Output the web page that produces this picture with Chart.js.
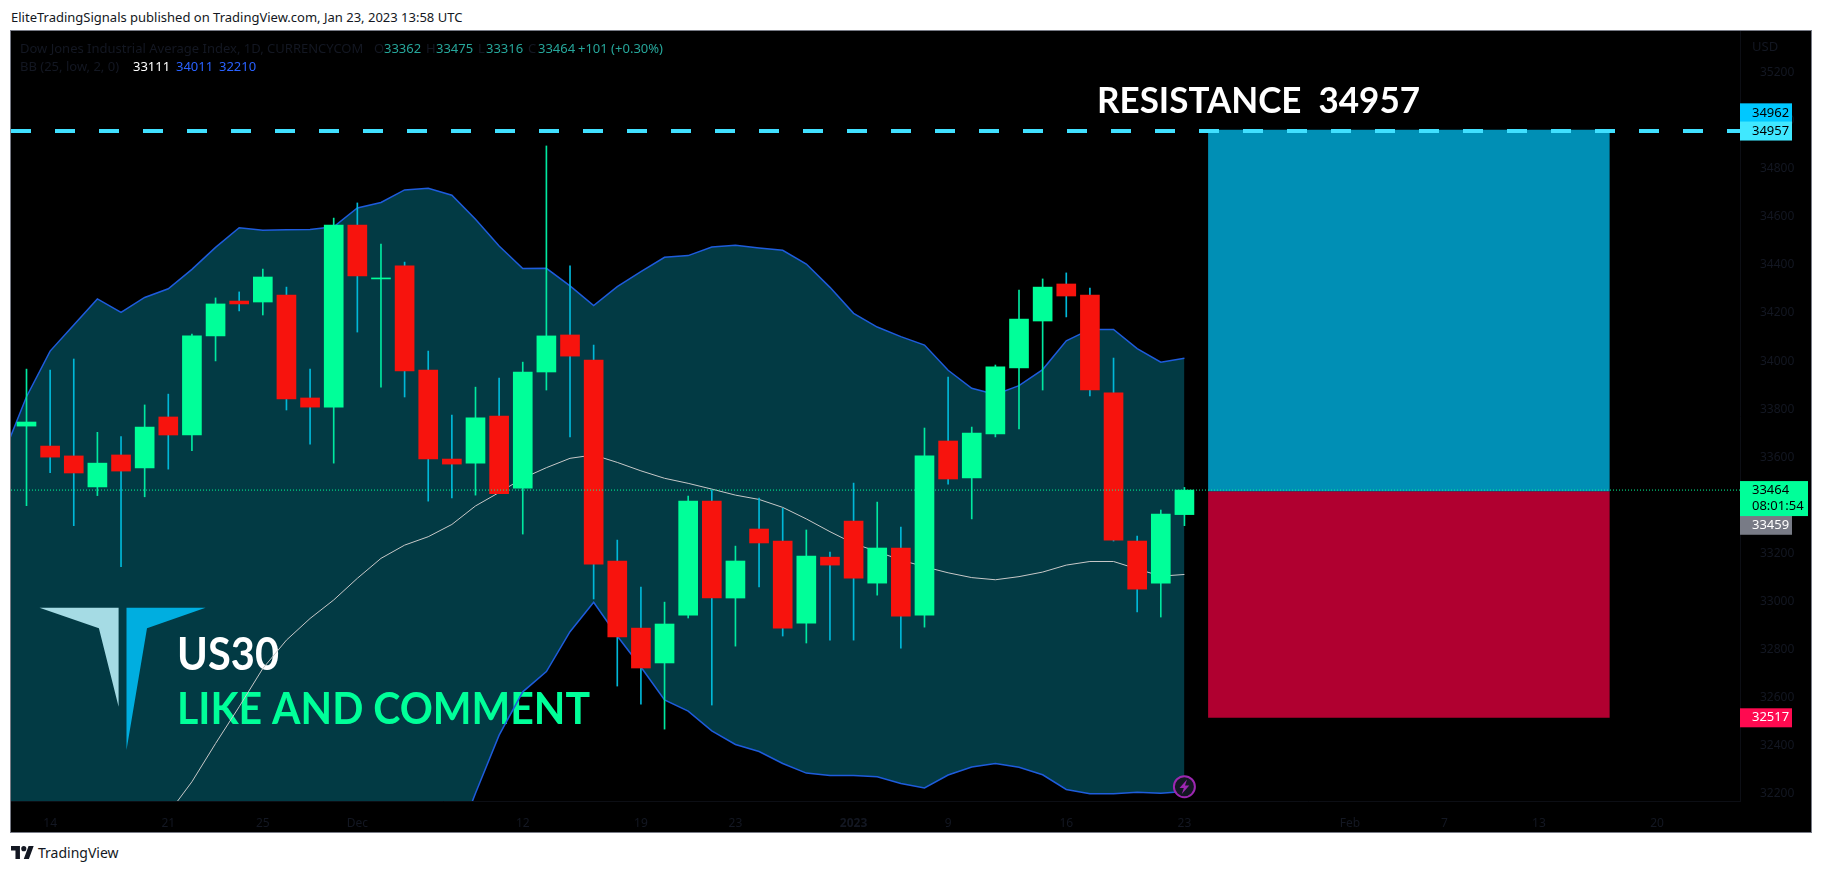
<!DOCTYPE html>
<html>
<head>
<meta charset="utf-8">
<script src="https://cdn.jsdelivr.net/npm/chart.js@4"></script>
<style>
  html, body { margin: 0; padding: 0; background: #fff; }
  body { width: 1823px; height: 872px; position: relative; overflow: hidden; font-family: "Noto Sans", sans-serif; }
  #title { position: absolute; left: 11px; top: 8px; font-size: 13px; line-height: 18px; color: #131722; white-space: pre; }
  #frame { position: absolute; left: 10px; top: 30px; width: 1800px; height: 801px; border: 1px solid #787b86; background: #000; }
  #frame canvas { position: absolute; left: 0; top: 0; }
  #logo, #alert { position: absolute; left: 0; top: 0; }
  .leg { position: absolute; font-size: 13px; line-height: 18px; white-space: pre; color: #131722; }
  .up { color: #26a69a; }
  #tvlogo { position: absolute; left: 11px; top: 846px; }
  #tvtext { position: absolute; left: 38px; top: 843px; font-size: 14px; line-height: 20px; color: #131722; }
</style>
</head>
<body>
<div id="title">EliteTradingSignals published on TradingView.com, Jan 23, 2023 13:58 UTC</div>
<div id="frame">
  <canvas id="grafico" width="1800" height="801"></canvas>
  <div class="leg" style="left:9px;top:8px">Dow Jones Industrial Average Index, 1D, CURRENCYCOM</div>
  <div class="leg" style="left:363px;top:8px">O</div><div class="leg up" style="left:373px;top:8px">33362</div>
  <div class="leg" style="left:415px;top:8px">H</div><div class="leg up" style="left:425px;top:8px">33475</div>
  <div class="leg" style="left:467px;top:8px">L</div><div class="leg up" style="left:475px;top:8px">33316</div>
  <div class="leg" style="left:517px;top:8px">C</div><div class="leg up" style="left:527px;top:8px">33464</div>
  <div class="leg up" style="left:567px;top:8px">+101 (+0.30%)</div>
  <div class="leg" style="left:9px;top:26px">BB (25, low, 2, 0)</div>
  <div class="leg" style="left:122px;top:26px;color:#fff">33111</div>
  <div class="leg" style="left:165px;top:26px;color:#2962ff">34011</div>
  <div class="leg" style="left:208px;top:26px;color:#2962ff">32210</div>
  <div class="leg" style="left:1741px;top:6px">USD</div>
  <svg id="logo" width="210" height="760" style="pointer-events:none">
    <polygon points="28.5,576.7 107.6,576.7 107.6,675.7 87.9,597.3" fill="#a5dbe4"/>
    <polygon points="115.5,576.7 194.6,576.7 136,597.3 115.5,719" fill="#00aee0"/>
  </svg>
  <svg id="alert" width="1800" height="801" style="pointer-events:none">
    <circle cx="1173.4" cy="755.7" r="10.5" fill="#131722" stroke="#9c27b0" stroke-width="2"/>
    <polygon points="1176,748.5 1168.5,757 1172.8,757 1170.8,763 1178.3,754.5 1174,754.5" fill="#9c27b0"/>
  </svg>
</div>
<svg id="tvlogo" width="23" height="13" viewBox="0 0 36 20"><path d="M14 20H7V7H0V0h14v20zM28 20h-8l7.5-20h8L28 20z" fill="#131722"/><circle cx="20" cy="4" r="4" fill="#131722"/></svg>
<div id="tvtext">TradingView</div>

<script>
// velas diarias
const abertura = [33730,33647,33606,33477,33610,33556,33768,33693,34105,34250,34246,34275,33847,33809,34566,34342,34396,33963,33593,33576,33772,33472,33955,34109,34005,33169,32890,32745,32944,33418,33015,33302,33252,32911,33185,33335,33077,33223,32944,33668,33514,33697,33972,34167,34321,34275,33868,33252,33077,33362];
const fechamento = [33747,33601,33535,33576,33543,33726,33693,34105,34238,34238,34350,33843,33809,34566,34354,34346,33959,33593,33572,33764,33449,33955,34105,34021,33156,32853,32724,32907,33418,33015,33169,33244,32890,33190,33152,33098,33223,32940,33606,33510,33701,33976,34175,34308,34271,33880,33256,33052,33364,33464];
const maxima = [33967,33963,34009,33704,33686,33818,33863,34113,34263,34288,34383,34308,33967,34595,34658,34487,34412,34042,33776,33892,33930,33996,34895,34396,34067,33256,33061,32998,33439,33464,33231,33431,33388,33298,33206,33493,33414,33310,33722,33934,33726,33984,34296,34342,34367,34304,34013,33273,33381,33475];
const minima = [33399,33536,33316,33441,33145,33436,33551,33628,34001,34209,34192,33797,33655,33576,34121,33892,33851,33418,33431,33443,33449,33281,33880,33685,33011,32649,32574,32470,32932,32570,32815,33061,32857,32828,32840,32840,33027,32807,32894,33489,33344,33685,33718,33880,34184,33855,33252,32957,32936,33316];

// bollinger: banda de cima e de baixo comecam no indice -1, a media no indice 6
// (os valores abaixo de 32170 ficam fora da tela, sao estimativa)
const bandaCima = [33606,33852,34042,34150,34259,34203,34265,34301,34382,34473,34555,34544,34547,34548,34559,34637,34660,34712,34719,34690,34590,34479,34385,34386,34313,34231,34310,34372,34432,34439,34475,34482,34471,34461,34404,34307,34199,34142,34102,34067,33962,33887,33862,33898,33965,34085,34132,34132,34052,33996,34012];
const bandaBaixo = [30000,30000,30000,30000,29950,29950,29950,29937,30120,30347,30571,30900,31133,31312,31455,31557,31700,31758,31821,31952,32203,32445,32625,32709,32875,32997,32857,32728,32591,32545,32463,32406,32377,32327,32287,32277,32277,32272,32244,32225,32279,32312,32327,32311,32280,32219,32201,32201,32207,32203,32210];
const media = [32119,32251,32410,32563,32722,32840,32930,33007,33097,33180,33235,33270,33321,33398,33454,33513,33557,33596,33610,33579,33544,33513,33492,33468,33443,33425,33392,33344,33291,33242,33208,33173,33145,33120,33100,33091,33104,33123,33152,33167,33167,33136,33106,33113];

// posicao long desenhada depois da ultima vela
const caixaX = [50, 67];
const alvo = 34962;
const entrada = 33459;
const stop = 32517;
const resistencia = 34957;
const ultimo = 33464;

const precos = [32200,32400,32600,32800,33000,33200,33400,33600,33800,34000,34200,34400,34600,34800,35000,35200];
const datasIdx = [1,6,10,14,21,26,30,35,39,44,49,56,60,64,69];
const datasTxt = ['14','21','25','Dec','12','19','23','2023','9','16','23','Feb','7','13','20'];

const VERDE = '#00ff99';
const VERMELHO = '#f7130d';
const FONTE = '"Noto Sans", sans-serif';

const xMin = -0.656, xMax = 72.51;
const yMin = 32171, yMax = 35373;

function pontos(arr, inicio) {
  return arr.map((v, i) => ({ x: i + inicio, y: v }));
}
const sobe = abertura.map((a, i) => fechamento[i] >= a);

const linha = { type: 'line', pointRadius: 0, tension: 0, fill: false };

// a fonte do original e mais estreita, entao aperta o texto ate a largura certa
function textoLargo(c, txt, x, y, larg) {
  const sx = larg / c.measureText(txt).width;
  c.save();
  c.translate(x, y);
  c.scale(sx, 1);
  c.fillText(txt, 0, 0);
  c.restore();
}

// texto da analise fica por baixo das linhas, por isso desenha logo depois do fundo da banda
const anotacoes = {
  id: 'anotacoes',
  afterDatasetDraw(chart, args) {
    if (chart.data.datasets[args.index].label !== 'fundo banda') return;
    const c = chart.ctx, x = chart.scales.x, y = chart.scales.y;
    c.save();
    c.textBaseline = 'alphabetic';
    c.textAlign = 'left';
    c.font = '700 46px Lato, sans-serif';
    c.fillStyle = '#fff';
    textoLargo(c, 'US30', x.getPixelForValue(6.37), y.getPixelForValue(32715), 102);
    c.font = '700 44px Lato, sans-serif';
    c.fillStyle = VERDE;
    textoLargo(c, 'LIKE AND COMMENT', x.getPixelForValue(6.37), y.getPixelForValue(32491), 413);
    c.restore();
  }
};

// etiquetas de preco na escala da direita e o titulo da resistencia
const etiquetas = {
  id: 'etiquetas',
  afterDraw(chart) {
    const c = chart.ctx, x = chart.scales.x, y = chart.scales.y;
    const esq = chart.chartArea.right;
    c.save();
    c.font = '700 37px Lato, sans-serif';
    c.fillStyle = '#fff';
    c.textBaseline = 'alphabetic';
    textoLargo(c, 'RESISTANCE  ' + resistencia, x.getPixelForValue(45.3), y.getPixelForValue(35032), 323);

    c.font = '13px ' + FONTE;
    c.textBaseline = 'middle';
    const tag = (valor, desloc, altura, larg, fundo, cor) => {
      const m = y.getPixelForValue(valor) + desloc;
      c.fillStyle = fundo;
      c.fillRect(esq, m - altura / 2, larg, altura);
      c.fillStyle = cor;
      c.fillText(String(valor), esq + 12, m);
    };
    tag(alvo, -17, 19, 52, '#00c8ff', '#000');
    tag(resistencia, 0, 19, 52, '#40e8ff', '#000');
    tag(entrada, 34, 19, 52, '#787b86', '#fff');
    tag(stop, 0, 19, 52, '#ff0a50', '#fff');

    const my = y.getPixelForValue(ultimo);
    c.fillStyle = VERDE;
    c.fillRect(esq, my - 9, 68, 35);
    c.fillStyle = '#000';
    c.fillText(String(ultimo), esq + 12, my);
    c.fillText('08:01:54', esq + 12, my + 16);
    c.restore();
  }
};

new Chart(document.getElementById('grafico'), {
  data: {
    datasets: [
      { label: 'resistencia', ...linha, order: 0, data: [{ x: xMin, y: resistencia }, { x: xMax, y: resistencia }], borderColor: '#40e0ff', borderWidth: 4, borderDash: [20, 24] },
      { label: 'ultimo', ...linha, order: 0, data: [{ x: xMin, y: ultimo }, { x: xMax, y: ultimo }], borderColor: VERDE, borderWidth: 1, borderDash: [1, 2] },
      { label: 'corpo', type: 'bar', order: 1, grouped: false, barThickness: 19, minBarLength: 1, borderWidth: 0,
        data: abertura.map((a, i) => ({ x: i, y: [a, fechamento[i]] })),
        backgroundColor: sobe.map(s => s ? VERDE : VERMELHO) },
      { label: 'pavio', type: 'bar', order: 2, grouped: false, barThickness: 1, borderWidth: 0,
        data: minima.map((m, i) => ({ x: i, y: [m, maxima[i]] })),
        backgroundColor: sobe.map(s => s ? '#00e8a0' : '#00b8d8') },
      { label: 'media', ...linha, order: 3, data: pontos(media, 6), borderColor: '#c8c8c8', borderWidth: 1 },
      { label: 'banda cima', ...linha, order: 3, data: pontos(bandaCima, -1), borderColor: '#1e5cdc', borderWidth: 1.5 },
      { label: 'banda baixo', ...linha, order: 3, data: pontos(bandaBaixo, -1), borderColor: '#1e5cdc', borderWidth: 1.5 },
      { label: 'topo banda', ...linha, order: 5, data: pontos(bandaCima, -1), borderWidth: 0, borderColor: 'transparent' },
      { label: 'fundo banda', ...linha, order: 4, data: pontos(bandaBaixo, -1), borderWidth: 0, borderColor: 'transparent', fill: '-1', backgroundColor: '#023a44' },
      { label: 'caixa alvo', ...linha, order: 7, data: caixaX.map(x => ({ x, y: alvo })), borderWidth: 0 },
      { label: 'caixa entrada', ...linha, order: 6, data: caixaX.map(x => ({ x, y: entrada })), borderWidth: 0, fill: '-1', backgroundColor: '#008fb5' },
      { label: 'caixa stop', ...linha, order: 6, data: caixaX.map(x => ({ x, y: stop })), borderWidth: 0, fill: '-1', backgroundColor: '#b00030' }
    ]
  },
  options: {
    responsive: false,
    animation: false,
    devicePixelRatio: 1,
    layout: { padding: 0, autoPadding: false },
    plugins: { legend: { display: false }, tooltip: { enabled: false } },
    scales: {
      x: {
        type: 'linear',
        offset: false,
        min: xMin,
        max: xMax,
        afterBuildTicks: s => { s.ticks = datasIdx.map(value => ({ value })); },
        afterFit: s => { s.height = 31; s.paddingLeft = 0; s.paddingRight = 0; },
        grid: { display: false },
        border: { color: '#0c0e14' },
        ticks: {
          autoSkip: false,
          maxRotation: 0,
          padding: 7,
          color: '#131722',
          font: ctx => ({ family: FONTE, size: 12, weight: ctx.tick && ctx.tick.value === 35 ? 'bold' : 'normal' }),
          callback: v => datasTxt[datasIdx.indexOf(v)]
        }
      },
      y: {
        position: 'right',
        min: yMin,
        max: yMax,
        afterBuildTicks: s => { s.ticks = precos.map(value => ({ value })); },
        // o padding dos ticks empurrava o topo do grafico pra baixo
        afterFit: s => { s.width = 71; s.paddingTop = 0; s.paddingBottom = 0; },
        grid: { display: false },
        border: { color: '#0c0e14' },
        ticks: {
          autoSkip: false,
          padding: 12,
          color: '#131722',
          font: { family: FONTE, size: 12 },
          callback: v => String(v)
        }
      }
    }
  },
  plugins: [anotacoes, etiquetas]
});
</script>
</body>
</html>
